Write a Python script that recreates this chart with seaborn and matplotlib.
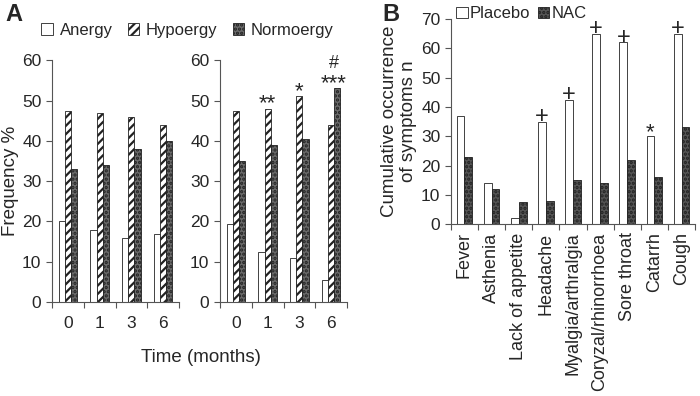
import matplotlib
matplotlib.use("Agg")
import matplotlib.pyplot as plt
import pandas as pd
import seaborn as sns

sns.set_style("ticks")
plt.rcParams["font.family"] = ["Liberation Sans", "DejaVu Sans"]
plt.rcParams["hatch.linewidth"] = 1.6

## Panel A data
months = ["0", "1", "3", "6"]
groups_a = ["Anergy", "Hypoergy", "Normoergy"]
anergy_1 = [20, 18, 16, 17]
hypo_1 = [47.5, 47, 46, 44]
normo_1 = [33, 34, 38, 40]
anergy_2 = [19.5, 12.5, 11, 5.5]
hypo_2 = [47.5, 48, 51, 44]
normo_2 = [35, 39, 40.5, 53]
sig_hypo_2 = ["", "**", "*", ""]
sig_normo_2 = ["", "", "", "***"]
hash_normo_2 = ["", "", "", "#"]

## Panel B data
symptoms = ["Fever", "Asthenia", "Lack of appetite", "Headache", "Myalgia/arthralgia",
            "Coryzal/rhinorrhoea", "Sore throat", "Catarrh", "Cough"]
groups_b = ["Placebo", "NAC"]
placebo = [37, 14, 2, 35, 42.5, 65, 62, 30, 65]
nac = [23, 12, 7.5, 8, 15, 14, 22, 16, 33]
sig_placebo = ["", "", "", "+", "+", "+", "+", "*", "+"]


def long_df(cats, names, series):
    rows = []
    for name, vals in zip(names, series):
        for c, v in zip(cats, vals):
            rows.append({"cat": c, "group": name, "value": v})
    return pd.DataFrame(rows)


def style_bars(ax, styles):
    for cont, (fc, hatch) in zip(ax.containers, styles):
        for p in cont.patches:
            p.set_facecolor(fc)
            p.set_edgecolor("#222222")
            p.set_linewidth(0.6)
            p.set_hatch(hatch)


def excel_xaxis(ax, labels):
    n = len(labels)
    ax.set_xlim(-0.5, n - 0.5)
    ax.set_xticks([i - 0.5 for i in range(n + 1)])
    ax.set_xticklabels([])
    ax.set_xticks(range(n), minor=True)
    ax.set_xticklabels(labels, minor=True)
    ax.tick_params(axis="x", which="major", length=4, color="#555555")
    ax.tick_params(axis="x", which="minor", length=0, pad=10)
    for s in ["left", "bottom"]:
        ax.spines[s].set_color("#555555")
        ax.spines[s].set_linewidth(0.8)
    ax.tick_params(axis="y", length=4, color="#555555")
    sns.despine(ax=ax)


styles_a = [("white", ""), ("white", "////"), ("#6a6a6a", "....")]
styles_b = [("white", ""), ("#555555", "....")]

fig = plt.figure(figsize=(7, 3.96), dpi=100)
ax1 = fig.add_axes([0.074, 0.237, 0.182, 0.611])
ax2 = fig.add_axes([0.314, 0.237, 0.182, 0.611])
ax3 = fig.add_axes([0.644, 0.434, 0.349, 0.518])

for ax, series in [(ax1, [anergy_1, hypo_1, normo_1]), (ax2, [anergy_2, hypo_2, normo_2])]:
    df = long_df(months, groups_a, series)
    sns.barplot(data=df, x="cat", y="value", hue="group", ax=ax, width=0.57,
                gap=0, legend=False)
    style_bars(ax, styles_a)
    excel_xaxis(ax, months)
    ax.set_ylim(0, 60)
    ax.set_yticks(range(0, 61, 10))
    ax.tick_params(axis="both", which="both", labelsize=12.5)
    ax.set_xlabel("")
    ax.set_ylabel("")

ax1.set_ylabel("Frequency %", fontsize=13.5, labelpad=2)
fig.text(0.287, 0.098, "Time (months)", ha="center", va="center", fontsize=13.5)

# significance marks on panel A right
for p, s in zip(ax2.containers[1].patches, sig_hypo_2):
    if s:
        ax2.text(p.get_x() + p.get_width() / 2, p.get_height() - 1.5, s,
                 ha="center", va="bottom", fontsize=16)
for p, s, h in zip(ax2.containers[2].patches, sig_normo_2, hash_normo_2):
    if s:
        ax2.text(p.get_x() + p.get_width() / 2 - 0.12, p.get_height() - 1.5, s,
                 ha="center", va="bottom", fontsize=16)
        ax2.text(p.get_x() + p.get_width() / 2 - 0.12, p.get_height() + 4, h,
                 ha="center", va="bottom", fontsize=13)

fig.legend(handles=ax1.containers[:], labels=groups_a, ncol=3, frameon=False,
           loc="center", bbox_to_anchor=(0.268, 0.924), fontsize=12,
           handlelength=0.7, handleheight=0.7, handletextpad=0.4, columnspacing=0.9)

# Panel B
dfb = long_df(symptoms, groups_b, [placebo, nac])
sns.barplot(data=dfb, x="cat", y="value", hue="group", ax=ax3, width=0.58,
            gap=0, legend=False)
style_bars(ax3, styles_b)
excel_xaxis(ax3, symptoms)
ax3.tick_params(axis="x", which="minor", labelrotation=90, labelsize=13, pad=6)
ax3.tick_params(axis="y", labelsize=12.5)
ax3.set_ylim(0, 70)
ax3.set_yticks(range(0, 71, 10))
ax3.set_xlabel("")
ax3.set_ylabel("Cumulative occurrence\nof symptoms n", fontsize=13.5, labelpad=3,
               linespacing=1.15)
for p, s in zip(ax3.containers[0].patches, sig_placebo):
    if s:
        ax3.text(p.get_x() + p.get_width() / 2, p.get_height() - 2.3, s,
                 ha="center", va="bottom", fontsize=17 if s == "+" else 16)
ax3.legend(handles=ax3.containers[:], labels=groups_b, ncol=2, frameon=False,
           loc="center left", bbox_to_anchor=(0.015, 1.025), fontsize=12,
           handlelength=0.7, handleheight=0.7, handletextpad=0.12, columnspacing=0.45,
           borderaxespad=0, borderpad=0.1)

fig.text(0.008, 0.992, "A", fontsize=17, fontweight="bold", va="top")
fig.text(0.546, 0.992, "B", fontsize=17, fontweight="bold", va="top")

fig.savefig("out.png", dpi=100)
